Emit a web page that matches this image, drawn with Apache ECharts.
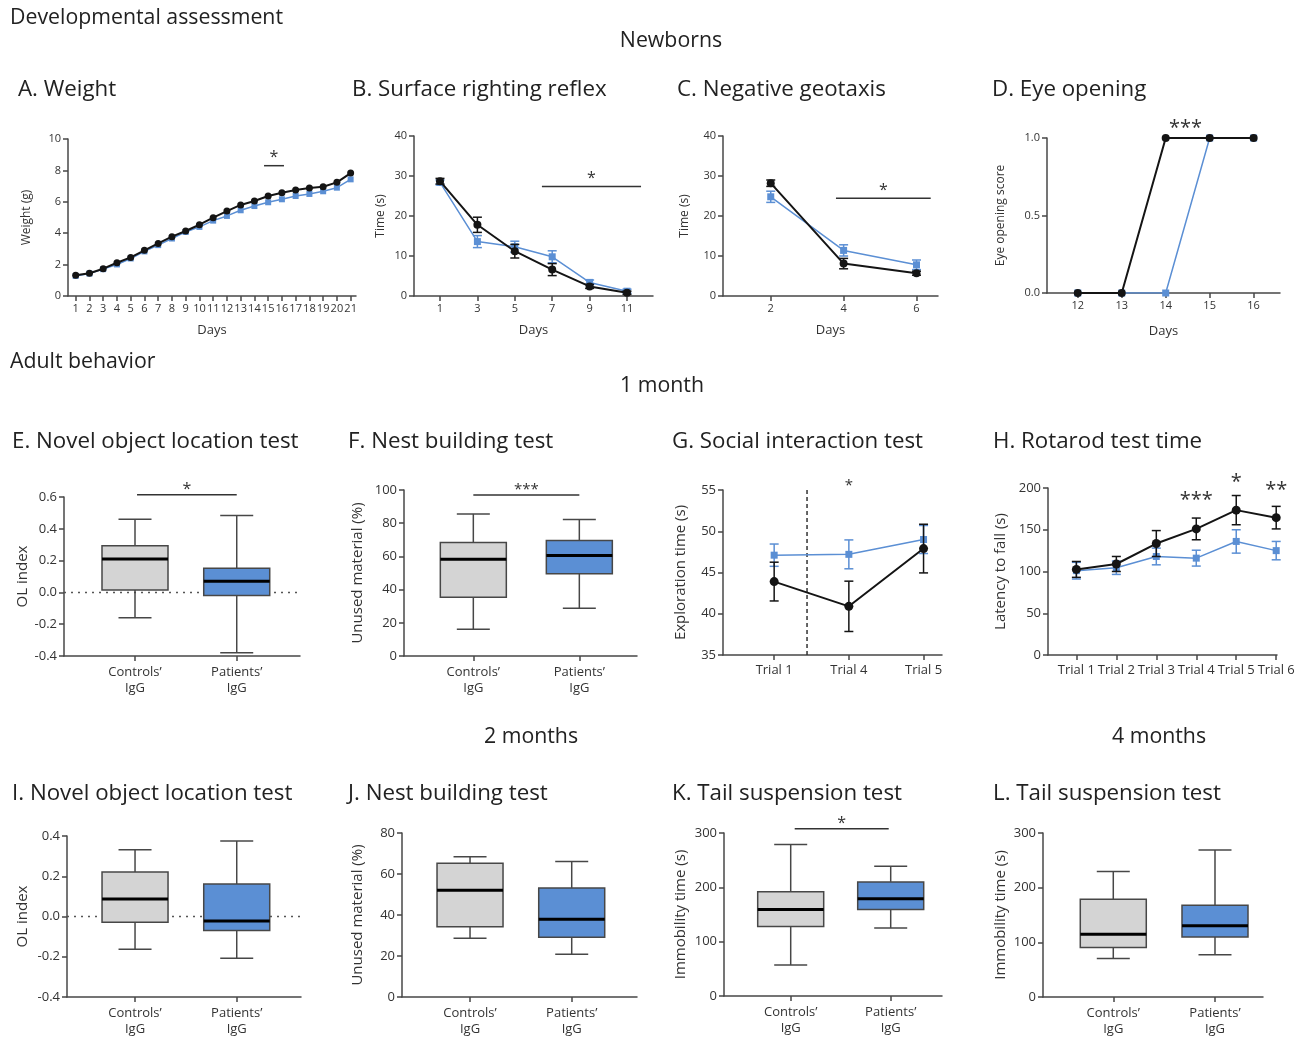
<!DOCTYPE html>
<html><head><meta charset="utf-8">
<script src="https://cdn.jsdelivr.net/npm/echarts@6/dist/echarts.min.js"></script>
<style>html,body{margin:0;padding:0;background:#fff}#c{width:1306px;height:1039px}</style>
</head><body><div id="c"></div>
<script>
const FONT = '"Open Sans", "Noto Sans", sans-serif';
const BLACK = '#141414', BLUE = '#5b8fd4', GRAY = '#d4d4d4', AXIS = '#474747', TEXT = '#333333';

// ---------------- Data ----------------
// A. Weight
const weightDays = [1,2,3,4,5,6,7,8,9,10,11,12,13,14,15,16,17,18,19,20,21];
const weightControls = [1.32,1.45,1.74,2.12,2.46,2.91,3.35,3.78,4.14,4.54,4.99,5.41,5.80,6.05,6.37,6.58,6.75,6.88,6.96,7.24,7.83];
const weightPatients = [1.28,1.43,1.71,2.01,2.39,2.84,3.24,3.66,4.08,4.40,4.80,5.10,5.46,5.73,5.97,6.16,6.37,6.50,6.67,6.90,7.43];
// B. Surface righting reflex
const surfaceDays = [1,3,5,7,9,11];
const surfaceControls = [28.7,17.8,11.2,6.6,2.4,0.8];
const surfaceControlsSem = [0.7,1.9,1.7,1.5,0.5,0.4];
const surfacePatients = [28.4,13.6,12.3,9.8,3.4,1.2];
const surfacePatientsSem = [0.6,1.5,1.4,1.5,0.6,0.5];
// C. Negative geotaxis
const geotaxisDays = [2,4,6];
const geotaxisControls = [28.2,8.1,5.7];
const geotaxisControlsSem = [0.8,1.3,0.5];
const geotaxisPatients = [24.8,11.4,7.8];
const geotaxisPatientsSem = [1.4,1.4,1.2];
// D. Eye opening
const eyeDays = [12,13,14,15,16];
const eyeControls = [0,0,1,1,1];
const eyePatients = [0,0,0,1,1];
// box plots: [min, q1, median, q3, max]
const groupLabels = ['Controls\u2019\nIgG','Patients\u2019\nIgG'];
const olIndex1mControls = [-0.16,0.015,0.21,0.294,0.46];
const olIndex1mPatients = [-0.38,-0.02,0.07,0.152,0.484];
const nest1mControls = [16.1,35.4,58.3,68.4,85.6];
const nest1mPatients = [28.8,49.5,60.6,69.6,82.3];
// G. Social interaction
const socialTrials = ['Trial 1','Trial 4','Trial 5'];
const socialControls = [43.9,40.9,47.9];
const socialControlsSem = [2.35,3.05,2.95];
const socialPatients = [47.1,47.2,49.0];
const socialPatientsSem = [1.35,1.75,1.7];
// H. Rotarod
const rotarodTrials = ['Trial 1','Trial 2','Trial 3','Trial 4','Trial 5','Trial 6'];
const rotarodControls = [102.5,109,133.5,151,173.5,164.5];
const rotarodControlsSem = [9.5,9,15.5,13,17.5,13.5];
const rotarodPatients = [101,104.5,118,116,136,125];
const rotarodPatientsSem = [10,8,10,9.5,14,11];
// 2 and 4 months
const olIndex2mControls = [-0.163,-0.029,0.087,0.221,0.332];
const olIndex2mPatients = [-0.208,-0.069,-0.022,0.161,0.375];
const nest2mControls = [28.7,34.3,52.1,65.3,68.4];
const nest2mPatients = [20.8,29.1,37.9,53.2,66.1];
const tail2mControls = [57,128,159,192,279];
const tail2mPatients = [125,159,179,210,239];
const tail4mControls = [70.5,90.7,114.6,178.9,229.6];
const tail4mPatients = [77.2,109.7,130.4,167.9,268.9];
// significance annotations (data units)
const sigWeight = [{x1:14.7, x2:16.15, y:8.3, text:'*'}];
const sigSurface = [{x1:6.45, x2:11.75, y:27.4, text:'*'}];
const sigGeotaxis = [{x1:3.79, x2:6.39, y:24.45, text:'*'}];
const sigEye = [{x1:14.45, x2:14.45, y:1.03, text:'***'}];
const sigOl1m = [{x1:0.02, x2:1, y:0.614, text:'*'}];
const sigNest1m = [{x1:0, x2:1, y:97, text:'***'}];
const sigSocial = [{x1:1, x2:1, y:54.9, text:'*'}];
const sigRotarod = [{x1:3, x2:3, y:178.8, text:'***'},{x1:4, x2:4, y:200.4, text:'*'},{x1:5, x2:5, y:190.8, text:'**'}];
const sigTail2m = [{x1:0.04, x2:0.98, y:308, text:'*'}];
const socialDivider = 0.44;

// ---------------- Builders ----------------
const grids = [], xAxes = [], yAxes = [], series = [];

function addPanel(cfg) {
  const i = grids.length;
  grids.push(cfg.grid);
  const xl = {customValues: cfg.x.ticks, fontSize: cfg.x.fs, color: TEXT, fontFamily: FONT, margin: cfg.x.margin || 7};
  if (cfg.x.fmt) xl.formatter = cfg.x.fmt;
  if (cfg.x.lh) xl.lineHeight = cfg.x.lh;
  xAxes.push({
    type: 'value', gridIndex: i, min: cfg.x.min, max: cfg.x.max,
    axisLine: {onZero: false, lineStyle: {color: AXIS, width: 1.5}},
    axisTick: {show: true, length: 5, customValues: cfg.x.ticks, lineStyle: {color: AXIS, width: 1.5}},
    axisLabel: xl, splitLine: {show: false},
    name: cfg.x.name || '', nameLocation: 'middle', nameGap: cfg.x.nameGap || 25,
    nameTextStyle: {fontSize: 13, color: TEXT, fontFamily: FONT}
  });
  const yl = {fontSize: cfg.y.fs, color: TEXT, fontFamily: FONT, margin: 7};
  if (cfg.y.dec !== undefined) yl.formatter = v => v.toFixed(cfg.y.dec);
  yAxes.push({
    type: 'value', gridIndex: i, min: cfg.y.min, max: cfg.y.max, interval: cfg.y.interval,
    axisLine: {show: true, onZero: false, lineStyle: {color: AXIS, width: 1.5}},
    axisTick: {show: true, length: 5, lineStyle: {color: AXIS, width: 1.5}},
    axisLabel: yl, splitLine: {show: false},
    name: cfg.y.name, nameLocation: 'middle', nameGap: cfg.y.nameGap,
    nameTextStyle: {fontSize: cfg.y.nfs, color: TEXT, fontFamily: FONT}
  });
  return i;
}

function lineSeries(i, xs, ys, color, symbol, size, width, z) {
  return {type: 'line', xAxisIndex: i, yAxisIndex: i, data: xs.map((x, k) => [x, ys[k]]),
    symbol, symbolSize: size, showSymbol: true, lineStyle: {color, width}, itemStyle: {color},
    z, silent: true, animation: false};
}
function errSeries(i, xs, ys, sem, color, z) {
  return {type: 'custom', xAxisIndex: i, yAxisIndex: i, z, silent: true, animation: false,
    data: xs.map((x, k) => [x, ys[k] - sem[k], ys[k] + sem[k]]),
    renderItem: (p, api) => {
      const a = api.coord([api.value(0), api.value(1)]), b = api.coord([api.value(0), api.value(2)]);
      const w = 4.5, st = {stroke: color, lineWidth: 1.5};
      return {type: 'group', children: [
        {type: 'line', shape: {x1: a[0], y1: a[1], x2: b[0], y2: b[1]}, style: st},
        {type: 'line', shape: {x1: a[0] - w, y1: a[1], x2: a[0] + w, y2: a[1]}, style: st},
        {type: 'line', shape: {x1: b[0] - w, y1: b[1], x2: b[0] + w, y2: b[1]}, style: st}]};
    }};
}
function boxSeries(i, xPos, stats, fill) {
  return {type: 'custom', xAxisIndex: i, yAxisIndex: i, z: 3, silent: true, animation: false,
    data: [[xPos].concat(stats)],
    renderItem: (p, api) => {
      const x = api.value(0);
      const c = k => api.coord([x, api.value(k)]);
      const mn = c(1), q1 = c(2), md = c(3), q3 = c(4), mx = c(5);
      const cx = mn[0], hw = 33, cw = 16.5;
      const st = {stroke: AXIS, lineWidth: 1.5};
      const ln = (x1, y1, x2, y2) => ({type: 'line', shape: {x1, y1, x2, y2}, style: st});
      return {type: 'group', children: [
        ln(cx, q3[1], cx, mx[1]), ln(cx, q1[1], cx, mn[1]),
        ln(cx - cw, mx[1], cx + cw, mx[1]), ln(cx - cw, mn[1], cx + cw, mn[1]),
        {type: 'rect', shape: {x: cx - hw, y: q3[1], width: 2 * hw, height: q1[1] - q3[1]}, style: {fill, stroke: AXIS, lineWidth: 1.5}},
        {type: 'line', shape: {x1: cx - hw, y1: md[1], x2: cx + hw, y2: md[1]}, style: {stroke: '#000', lineWidth: 3}}
      ]};
    }};
}
function hRefSeries(i, yVal) {
  return {type: 'custom', xAxisIndex: i, yAxisIndex: i, z: 1, silent: true, animation: false,
    data: [[0, yVal]],
    renderItem: (p, api) => {
      const cs = p.coordSys, y = api.coord([0, api.value(1)])[1];
      return {type: 'line', shape: {x1: cs.x, y1: y, x2: cs.x + cs.width, y2: y},
        style: {stroke: '#555', lineWidth: 1.5, lineDash: [2, 5]}};
    }};
}
function vRefSeries(i, xVal, yAny) {
  return {type: 'custom', xAxisIndex: i, yAxisIndex: i, z: 1, silent: true, animation: false,
    data: [[xVal, yAny]],
    renderItem: (p, api) => {
      const cs = p.coordSys, x = api.coord([api.value(0), api.value(1)])[0];
      return {type: 'line', shape: {x1: x, y1: cs.y, x2: x, y2: cs.y + cs.height},
        style: {stroke: '#333', lineWidth: 1.5, lineDash: [4, 3]}};
    }};
}
function sigSeries(i, list, fs, dy) {
  return {type: 'custom', xAxisIndex: i, yAxisIndex: i, z: 5, silent: true, animation: false,
    data: list.map(a => [a.x1, a.y]),
    renderItem: (p, api) => {
      const a = list[p.dataIndex];
      const p1 = api.coord([a.x1, a.y]), p2 = api.coord([a.x2, a.y]);
      const ch = [];
      if (a.x2 !== a.x1) ch.push({type: 'line', shape: {x1: p1[0], y1: p1[1], x2: p2[0], y2: p2[1]}, style: {stroke: '#333', lineWidth: 1.5}});
      ch.push({type: 'text', style: {text: a.text, x: (p1[0] + p2[0]) / 2, y: p1[1] - dy, align: 'center', verticalAlign: 'middle',
        font: fs + 'px ' + FONT, fill: '#333'}});
      return {type: 'group', children: ch};
    }};
}
function addLines(i, xs, c, cs, pz, ps, opts) {
  const o = opts || {};
  if (ps) series.push(errSeries(i, xs, pz, ps, BLUE, 2));
  series.push(lineSeries(i, xs, pz, BLUE, 'rect', o.bs || 7, 1.5, 3));
  if (cs) series.push(errSeries(i, xs, c, cs, BLACK, 4));
  series.push(lineSeries(i, xs, c, BLACK, 'circle', o.cs || 8, 2, 5));
}
const boxX = {ticks: [0, 1], fs: 13, lh: 16, fmt: v => groupLabels[v], margin: 8};

// A
let i = addPanel({grid: {left: 68, top: 139, width: 288, height: 157},
  x: {min: 0.44, max: 21.39, ticks: weightDays, fs: 11, name: 'Days', nameGap: 28},
  y: {min: 0, max: 10, interval: 2, fs: 11, name: 'Weight (g)', nameGap: 35, nfs: 12}});
addLines(i, weightDays, weightControls, null, weightPatients, null, {bs: 6, cs: 7});
series.push(sigSeries(i, sigWeight, 16, 8));
// B
i = addPanel({grid: {left: 414, top: 136, width: 239, height: 160},
  x: {min: -0.39, max: 12.39, ticks: surfaceDays, fs: 11, name: 'Days', nameGap: 28},
  y: {min: 0, max: 40, interval: 10, fs: 11, name: 'Time (s)', nameGap: 27, nfs: 12}});
addLines(i, surfaceDays, surfaceControls, surfaceControlsSem, surfacePatients, surfacePatientsSem);
series.push(sigSeries(i, sigSurface, 16, 8));
// C
i = addPanel({grid: {left: 723, top: 136, width: 215, height: 160},
  x: {min: 0.69, max: 6.59, ticks: geotaxisDays, fs: 11, name: 'Days', nameGap: 28},
  y: {min: 0, max: 40, interval: 10, fs: 11, name: 'Time (s)', nameGap: 32, nfs: 12}});
addLines(i, geotaxisDays, geotaxisControls, geotaxisControlsSem, geotaxisPatients, geotaxisPatientsSem);
series.push(sigSeries(i, sigGeotaxis, 16, 8));
// D
i = addPanel({grid: {left: 1047, top: 138, width: 233, height: 155},
  x: {min: 11.3, max: 16.6, ticks: eyeDays, fs: 11, name: 'Days', nameGap: 32},
  y: {min: 0, max: 1, interval: 0.5, fs: 11, dec: 1, name: 'Eye opening score', nameGap: 40, nfs: 12}});
addLines(i, eyeDays, eyeControls, null, eyePatients, null);
series.push(sigSeries(i, sigEye, 20, 5));
// E
i = addPanel({grid: {left: 64, top: 497, width: 236, height: 159},
  x: Object.assign({min: -0.698, max: 1.622}, boxX),
  y: {min: -0.4, max: 0.6, interval: 0.2, fs: 13, dec: 1, name: 'OL index', nameGap: 34, nfs: 15}});
series.push(hRefSeries(i, 0));
series.push(boxSeries(i, 0, olIndex1mControls, GRAY), boxSeries(i, 1, olIndex1mPatients, BLUE));
series.push(sigSeries(i, sigOl1m, 16, 5));
// F
i = addPanel({grid: {left: 404, top: 490, width: 233, height: 166},
  x: Object.assign({min: -0.654, max: 1.544}, boxX),
  y: {min: 0, max: 100, interval: 20, fs: 13, name: 'Unused material (%)', nameGap: 39, nfs: 15}});
series.push(boxSeries(i, 0, nest1mControls, GRAY), boxSeries(i, 1, nest1mPatients, BLUE));
series.push(sigSeries(i, sigNest1m, 15, 5));
// G
i = addPanel({grid: {left: 723, top: 490, width: 219, height: 165},
  x: {min: -0.685, max: 2.247, ticks: [0, 1, 2], fs: 13, fmt: v => socialTrials[v], margin: 9},
  y: {min: 35, max: 55, interval: 5, fs: 13, name: 'Exploration time (s)', nameGap: 35, nfs: 15}});
series.push(vRefSeries(i, socialDivider, 45));
addLines(i, [0, 1, 2], socialControls, socialControlsSem, socialPatients, socialPatientsSem, {cs: 9});
series.push(sigSeries(i, sigSocial, 15, 5));
// H
i = addPanel({grid: {left: 1048, top: 488, width: 229, height: 167},
  x: {min: -0.71, max: 5.02, ticks: [0, 1, 2, 3, 4, 5], fs: 13, fmt: v => rotarodTrials[v], margin: 9},
  y: {min: 0, max: 200, interval: 50, fs: 13, name: 'Latency to fall (s)', nameGap: 40, nfs: 15}});
addLines(i, [0, 1, 2, 3, 4, 5], rotarodControls, rotarodControlsSem, rotarodPatients, rotarodPatientsSem, {cs: 9});
series.push(sigSeries(i, sigRotarod, 20, 5));
// I
i = addPanel({grid: {left: 67, top: 836, width: 234, height: 161},
  x: Object.assign({min: -0.669, max: 1.632}, boxX),
  y: {min: -0.4, max: 0.4, interval: 0.2, fs: 13, dec: 1, name: 'OL index', nameGap: 37, nfs: 15}});
series.push(hRefSeries(i, 0));
series.push(boxSeries(i, 0, olIndex2mControls, GRAY), boxSeries(i, 1, olIndex2mPatients, BLUE));
// J
i = addPanel({grid: {left: 402, top: 833, width: 235, height: 164},
  x: Object.assign({min: -0.669, max: 1.642}, boxX),
  y: {min: 0, max: 80, interval: 20, fs: 13, name: 'Unused material (%)', nameGap: 37, nfs: 15}});
series.push(boxSeries(i, 0, nest2mControls, GRAY), boxSeries(i, 1, nest2mPatients, BLUE));
// K
i = addPanel({grid: {left: 724, top: 833, width: 218, height: 163},
  x: Object.assign({min: -0.667, max: 1.513}, boxX),
  y: {min: 0, max: 300, interval: 100, fs: 13, name: 'Immobility time (s)', nameGap: 36, nfs: 15}});
series.push(boxSeries(i, 0, tail2mControls, GRAY), boxSeries(i, 1, tail2mPatients, BLUE));
series.push(sigSeries(i, sigTail2m, 16, 5));
// L
i = addPanel({grid: {left: 1043, top: 833, width: 220, height: 164},
  x: Object.assign({min: -0.691, max: 1.472}, boxX),
  y: {min: 0, max: 300, interval: 100, fs: 13, name: 'Immobility time (s)', nameGap: 35, nfs: 15}});
series.push(boxSeries(i, 0, tail4mControls, GRAY), boxSeries(i, 1, tail4mPatients, BLUE));

// ---------------- Texts ----------------
const texts = [
  ['Developmental assessment', 10, 18, 'left', 21.3],
  ['Newborns', 671, 41, 'center', 21.3],
  ['A. Weight', 18, 90, 'left', 22.3],
  ['B. Surface righting reflex', 352, 90, 'left', 22.3],
  ['C. Negative geotaxis', 677, 90, 'left', 22.3],
  ['D. Eye opening', 992, 90, 'left', 22.3],
  ['Adult behavior', 10, 362, 'left', 21.3],
  ['1 month', 662, 386, 'center', 21.3],
  ['E. Novel object location test', 12, 442, 'left', 22.3],
  ['F. Nest building test', 348, 442, 'left', 22.3],
  ['G. Social interaction test', 672, 442, 'left', 22.3],
  ['H. Rotarod test time', 993, 442, 'left', 22.3],
  ['2 months', 531, 737, 'center', 21.3],
  ['4 months', 1159, 737, 'center', 21.3],
  ['I. Novel object location test', 12, 794, 'left', 22.3],
  ['J. Nest building test', 348, 794, 'left', 22.3],
  ['K. Tail suspension test', 672, 794, 'left', 22.3],
  ['L. Tail suspension test', 993, 794, 'left', 22.3]
];
const graphic = texts.map(t => ({type: 'text', silent: true,
  style: {text: t[0], x: t[1], y: t[2], align: t[3], verticalAlign: 'middle', font: t[4] + 'px ' + FONT, fill: '#222'}}));

const chart = echarts.init(document.getElementById('c'), null, {renderer: 'canvas'});
chart.setOption({animation: false, backgroundColor: '#fff', grid: grids, xAxis: xAxes, yAxis: yAxes, series, graphic});
</script></body></html>
